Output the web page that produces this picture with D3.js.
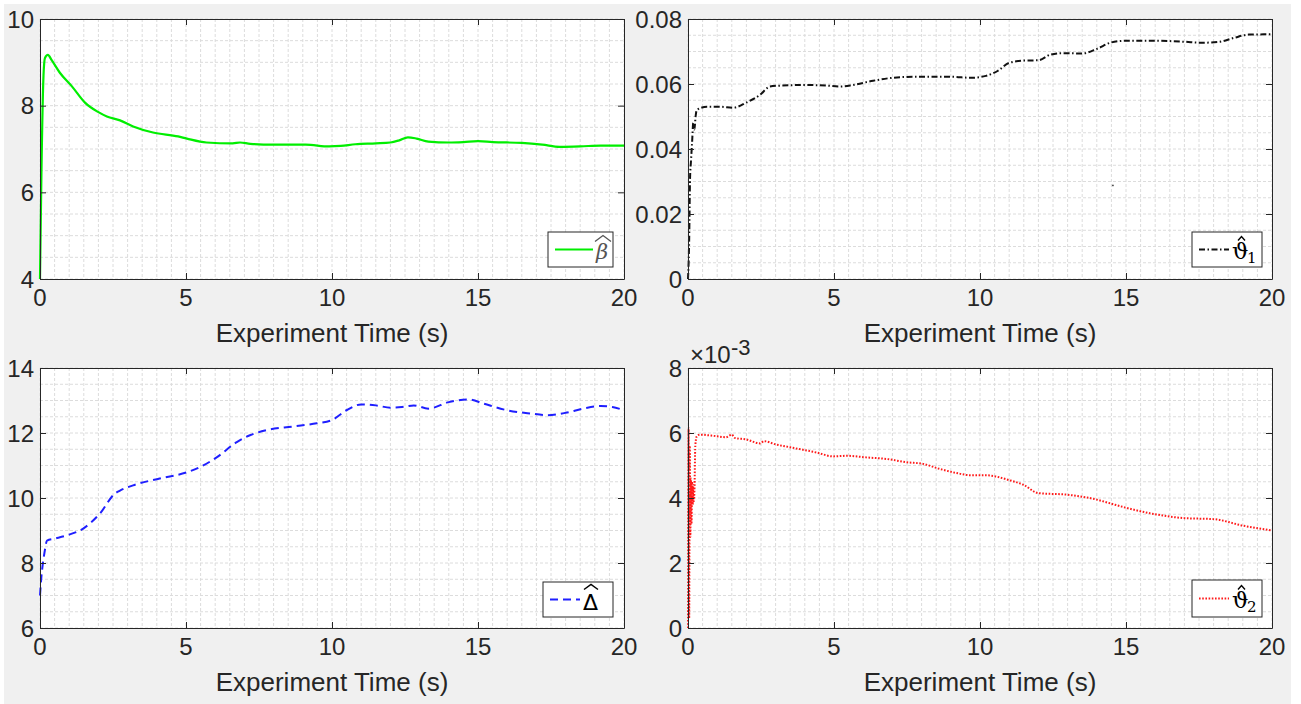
<!DOCTYPE html>
<html>
<head>
<meta charset="utf-8">
<script src="https://cdn.jsdelivr.net/npm/d3@7"></script>
<style>
  body { margin: 0; background: #fff; }
  svg { display: block; }
</style>
</head>
<body>
<div id="chart-area"></div>
<script>
// estimated parameter histories

var xTicks = [0, 5, 10, 15, 20]

// beta hat
var tBeta = [0, 0.05, 0.12, 0.17, 0.27, 0.4, 0.68, 1.1, 1.54, 2.0, 2.29, 2.74, 3.19, 3.87, 4.73, 5.03, 5.7, 6.6, 6.85, 7.2, 7.98, 9.1, 9.9, 10.3, 10.8, 11.5, 12.0, 12.3, 12.6, 12.9, 13.3, 14.0, 14.5, 15.0, 15.5, 16.5, 17.2, 17.8, 18.5, 19.2, 20]
var beta = [4.0, 6.5, 8.7, 9.1, 9.17, 9.05, 8.76, 8.44, 8.07, 7.85, 7.75, 7.66, 7.52, 7.38, 7.29, 7.24, 7.15, 7.13, 7.15, 7.12, 7.1, 7.1, 7.06, 7.07, 7.11, 7.13, 7.15, 7.2, 7.27, 7.24, 7.17, 7.15, 7.16, 7.18, 7.16, 7.14, 7.1, 7.05, 7.06, 7.08, 7.08]
var betaTicks = [4, 6, 8, 10]

// theta1 hat
var tTheta1 = [0, 0.04, 0.07, 0.1, 0.14, 0.18, 0.22, 0.26, 0.3, 0.65, 1.1, 1.55, 2.0, 2.47, 2.8, 3.15, 4.07, 4.75, 5.2, 5.65, 6.34, 7.0, 7.7, 9.07, 9.66, 10.2, 10.6, 11.0, 11.5, 12.0, 12.4, 12.8, 13.5, 14.0, 14.5, 15.0, 16.0, 17.0, 17.6, 18.2, 18.7, 19.2, 20]
var theta1 = [0, 0.012, 0.031, 0.036, 0.042, 0.048, 0.046, 0.05, 0.052, 0.053, 0.053, 0.0527, 0.0543, 0.0567, 0.0592, 0.0595, 0.0597, 0.0595, 0.0592, 0.0597, 0.061, 0.0619, 0.0622, 0.0622, 0.0619, 0.0625, 0.064, 0.0665, 0.0672, 0.0673, 0.069, 0.0695, 0.0694, 0.0708, 0.0728, 0.0733, 0.0733, 0.073, 0.0727, 0.073, 0.0742, 0.0752, 0.0753]
var theta1Stray = [[14.55, 0.0288]]
var theta1Ticks = [0, 0.02, 0.04, 0.06, 0.08]

// delta hat
var tDelta = [0, 0.05, 0.1, 0.15, 0.24, 0.5, 0.92, 1.48, 2.05, 2.57, 2.74, 3.19, 4.1, 5.03, 5.48, 6.05, 6.74, 7.19, 7.77, 8.66, 9.48, 10.0, 10.5, 11.0, 11.5, 12.0, 12.4, 12.8, 13.3, 14.0, 14.7, 15.2, 16.0, 16.8, 17.4, 18.0, 18.6, 19.2, 19.6, 20]
var delta = [7.0, 7.6, 8.0, 8.3, 8.69, 8.75, 8.85, 9.06, 9.52, 10.14, 10.23, 10.39, 10.6, 10.79, 10.95, 11.25, 11.72, 11.93, 12.09, 12.2, 12.3, 12.4, 12.7, 12.88, 12.85, 12.78, 12.8, 12.85, 12.75, 12.95, 13.03, 12.9, 12.7, 12.6, 12.55, 12.62, 12.75, 12.83, 12.8, 12.7]
var deltaTicks = [6, 8, 10, 12, 14]

// theta2 hat, in units of 1e-3
var tTheta2 = [0, 0.02, 0.04, 0.06, 0.08, 0.1, 0.12, 0.14, 0.16, 0.18, 0.2, 0.22, 0.25, 0.3, 0.4, 0.8, 1.3, 1.5, 1.6, 2.0, 2.47, 2.6, 3.0, 3.5, 4.4, 4.97, 5.44, 6.1, 6.8, 7.5, 8.05, 8.6, 9.3, 9.66, 10.2, 11.0, 11.5, 12.0, 13.0, 14.0, 14.4, 15.0, 16.0, 17.0, 18.0, 19.0, 20]
var theta2 = [0, 6.15, 0.3, 5.6, 2.8, 4.6, 3.2, 4.5, 3.8, 4.4, 3.9, 4.2, 5.6, 5.9, 5.95, 5.92, 5.87, 5.95, 5.85, 5.8, 5.68, 5.75, 5.65, 5.56, 5.4, 5.28, 5.3, 5.25, 5.2, 5.1, 5.05, 4.9, 4.75, 4.7, 4.7, 4.55, 4.4, 4.15, 4.1, 3.95, 3.85, 3.7, 3.5, 3.38, 3.35, 3.15, 3.0]
var theta2Ticks = [0, 2, 4, 6, 8]

var W = 1301, H = 704
var svg = d3.select("#chart-area").append("svg")
	.attr("width", W)
	.attr("height", H)

// figure background
svg.append("rect")
	.attr("x", 4).attr("y", 4)
	.attr("width", 1287).attr("height", 700)
	.attr("fill", "#f0f0f0")

var axisColor = "#262626"
var font = "'Liberation Sans', Arial, sans-serif"

function label(g, x, y, txt, size, anchor) {
	return g.append("text")
		.attr("x", x).attr("y", y)
		.attr("font-family", font)
		.attr("font-size", size + "px")
		.attr("fill", axisColor)
		.attr("text-anchor", anchor)
		.text(txt)
}

var panels = [
	{ left: 40, top: 19, t: tBeta, v: beta, domain: [4, 10], ticks: betaTicks, minor: 0.5,
	  color: "#00ee00", width: 2.2, dash: null, fmt: d => d, leg: "beta" },
	{ left: 688, top: 19, t: tTheta1, v: theta1, domain: [0, 0.08], ticks: theta1Ticks, minor: 0.005,
	  color: "#111", width: 2, dash: "6,2.5,1.5,2.5", fmt: d => d === 0 ? "0" : d3.format(".2f")(d), leg: "theta1" },
	{ left: 40, top: 368, t: tDelta, v: delta, domain: [6, 14], ticks: deltaTicks, minor: 0.5,
	  color: "#1f1fff", width: 2, dash: "8,5", fmt: d => d, leg: "delta" },
	{ left: 688, top: 368, t: tTheta2, v: theta2, domain: [0, 8], ticks: theta2Ticks, minor: 0.5,
	  color: "#ff1a1a", width: 2, dash: "1.6,1.6", fmt: d => d, leg: "theta2" }
]
var pw = 584, ph = 260

panels.forEach(function(p, i) {
	var g = svg.append("g").attr("transform", "translate(" + p.left + "," + p.top + ")")
	var x = d3.scaleLinear().domain([0, 20]).range([0, pw])
	var y = d3.scaleLinear().domain(p.domain).range([ph, 0])

	g.append("rect").attr("width", pw).attr("height", ph).attr("fill", "#fff")

	// grid (major + minor)
	var gx = d3.range(0, 20.001, 0.5)
	var gy = d3.range(p.domain[0], p.domain[1] + p.minor / 10, p.minor)
	g.selectAll(".gx").data(gx).enter().append("line")
		.attr("x1", d => x(d)).attr("x2", d => x(d))
		.attr("y1", 0).attr("y2", ph)
		.attr("stroke", "#dcdcdc").attr("stroke-width", 1).attr("stroke-dasharray", "3,2")
	g.selectAll(".gy").data(gy).enter().append("line")
		.attr("y1", d => y(d)).attr("y2", d => y(d))
		.attr("x1", 0).attr("x2", pw)
		.attr("stroke", "#dcdcdc").attr("stroke-width", 1).attr("stroke-dasharray", "3,2")

	// series
	var pts = p.t.map((t, k) => [t, p.v[k]])
	var line = d3.line().x(d => x(d[0])).y(d => y(d[1])).curve(d3.curveMonotoneX)
	g.append("path")
		.datum(pts)
		.attr("d", line)
		.attr("fill", "none")
		.attr("stroke", p.color)
		.attr("stroke-width", p.width)
		.attr("stroke-dasharray", p.dash)
	if (p.leg === "theta1") {
		g.selectAll(".stray").data(theta1Stray).enter().append("rect")
			.attr("x", d => x(d[0]) - 0.7).attr("y", d => y(d[1]) - 0.7)
			.attr("width", 1.5).attr("height", 1.5).attr("fill", "#333")
	}

	// axes with inward ticks, box on
	var xa = d3.axisBottom(x).tickValues(xTicks).tickSizeInner(-6).tickSizeOuter(0).tickFormat("")
	var xt = d3.axisTop(x).tickValues(xTicks).tickSizeInner(-6).tickSizeOuter(0).tickFormat("")
	var ya = d3.axisLeft(y).tickValues(p.ticks).tickSizeInner(-6).tickSizeOuter(0).tickFormat("")
	var yr = d3.axisRight(y).tickValues(p.ticks).tickSizeInner(-6).tickSizeOuter(0).tickFormat("")
	g.append("g").attr("transform", "translate(0," + ph + ")").call(xa)
	g.append("g").call(xt)
	g.append("g").call(ya)
	g.append("g").attr("transform", "translate(" + pw + ",0)").call(yr)
	g.selectAll(".domain, .tick line").attr("stroke", axisColor).attr("stroke-width", 1)

	// tick labels
	xTicks.forEach(d => label(g, x(d), ph + 27, d, 24, "middle"))
	p.ticks.forEach(d => label(g, -6, y(d) + 8.5, p.fmt(d), 24, "end"))
	label(g, pw / 2, ph + 63, "Experiment Time (s)", 26, "middle")

	if (p.leg === "theta2") {
		label(g, 2, -5, "×10", 24, "start")
		label(g, 43, -13, "-3", 22, "start")
	}

	// legend
	var lg = g.append("g")
	var bx = p.leg === "beta" || p.leg === "delta" ? (p.leg === "beta" ? 508 : 503) : 504
	var bw = p.leg === "delta" ? 70 : (p.leg === "beta" ? 65 : 70)
	var by = p.leg === "theta2" ? 212 : (p.leg === "delta" ? 214 : 213)
	var bh = p.leg === "theta2" ? 37 : 35
	lg.append("rect")
		.attr("x", bx).attr("y", by).attr("width", bw).attr("height", bh)
		.attr("fill", "#fff").attr("stroke", axisColor).attr("stroke-width", 1)
	var ly = by + bh / 2
	lg.append("line")
		.attr("x1", bx + 7).attr("x2", bx + (p.leg === "beta" ? 45 : 37))
		.attr("y1", ly).attr("y2", ly)
		.attr("stroke", p.color).attr("stroke-width", p.width)
		.attr("stroke-dasharray", p.dash)
	var sx = bx + (p.leg === "beta" ? 48 : 40)
	if (p.leg === "beta") {
		lg.append("text").attr("x", sx).attr("y", ly + 9)
			.attr("font-family", "'DejaVu Serif', serif").attr("font-style", "italic")
			.attr("font-size", "21px").attr("fill", "#555").text("β")
		lg.append("path").attr("d", "M" + (sx - 1) + "," + (ly - 8) + " L" + (sx + 7) + "," + (ly - 14) + " L" + (sx + 15) + "," + (ly - 8))
			.attr("fill", "none").attr("stroke", "#555").attr("stroke-width", 1.3)
	} else if (p.leg === "delta") {
		lg.append("text").attr("x", sx).attr("y", ly + 10)
			.attr("font-family", "'DejaVu Sans', sans-serif")
			.attr("font-size", "22px").attr("fill", "#000").text("Δ")
		lg.append("path").attr("d", "M" + (sx + 1) + "," + (ly - 10) + " L" + (sx + 8) + "," + (ly - 15) + " L" + (sx + 15) + "," + (ly - 10))
			.attr("fill", "none").attr("stroke", "#000").attr("stroke-width", 1.5)
	} else {
		var sub = p.leg === "theta1" ? "1" : "2"
		lg.append("text").attr("x", sx).attr("y", ly + 9)
			.attr("font-family", "'DejaVu Serif', serif")
			.attr("font-size", "23px").attr("fill", "#000").text("ϑ")
		lg.append("path").attr("d", "M" + (sx + 6) + "," + (ly - 9) + " L" + (sx + 9.5) + "," + (ly - 13) + " L" + (sx + 13) + "," + (ly - 9))
			.attr("fill", "none").attr("stroke", "#000").attr("stroke-width", 1.4)
		lg.append("text").attr("x", sx + 15).attr("y", ly + 13)
			.attr("font-family", "'DejaVu Serif', serif")
			.attr("font-size", "15px").attr("fill", "#000").text(sub)
	}
})
</script>
</body>
</html>
